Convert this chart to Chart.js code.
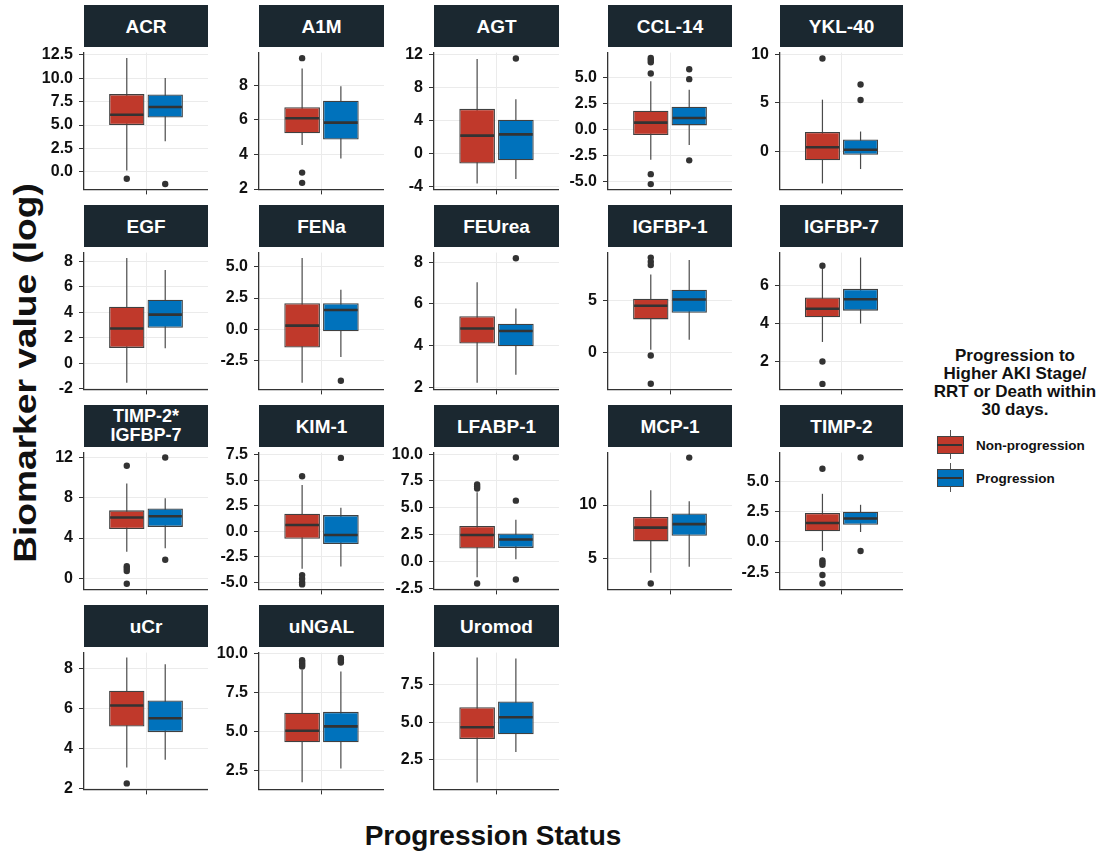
<!DOCTYPE html>
<html>
<head>
<meta charset="utf-8">
<script src="https://cdn.jsdelivr.net/npm/chart.js@4.4.0/dist/chart.umd.min.js"></script>
<style>
  body { margin: 0; background: #fff; font-family: 'Liberation Sans', Arial, sans-serif; }
  #stage { position: relative; width: 1104px; height: 856px; overflow: hidden; }
  #stage canvas { position: absolute; }
  .strip { position: absolute; background: #1b2830; color: #fff; font-weight: bold; font-size: 19px;
           display: flex; align-items: center; justify-content: center; text-align: center; line-height: 19px; }
  .strip.two { font-size: 18px; line-height: 19px; }
  .axis-title { position: absolute; font-weight: bold; font-size: 28px; color: #111; white-space: nowrap; }
  #ytitle { left: 25px; top: 373px; font-size: 32px; transform: translate(-50%, -50%) rotate(-90deg) scaleX(1.16); }
  #xtitle { left: 493px; top: 836px; transform: translate(-50%, -50%); }
  .legend-title { position: absolute; left: 925px; top: 347px; width: 180px; text-align: center;
                  font-weight: bold; font-size: 17px; line-height: 18px; color: #111; }
  .key { position: absolute; left: 937px; width: 27px; height: 29px; }
  .key .wh { position: absolute; left: 13px; top: 0; width: 1px; height: 29px; background: #555; }
  .key .bx { position: absolute; left: 0; top: 6px; width: 25px; height: 16px; border: 1px solid #444; }
  .key .md { position: absolute; left: 0; top: 8px; width: 25px; height: 1.5px; background: #333; }
  .key-label { position: absolute; left: 976px; font-weight: bold; font-size: 13.5px; color: #111; transform: translateY(-50%); }
</style>
</head>
<body>
<div id="stage">
  <div class="axis-title" id="ytitle">Biomarker value (log)</div>
  <div class="axis-title" id="xtitle">Progression Status</div>
  <div class="legend-title">Progression to<br>Higher AKI Stage/<br>RRT or Death within<br>30 days.</div>
</div>
<script>
// facets, in reading order
const biomarkers = ['ACR', 'A1M', 'AGT', 'CCL-14', 'YKL-40',
                    'EGF', 'FENa', 'FEUrea', 'IGFBP-1', 'IGFBP-7',
                    'TIMP-2*\nIGFBP-7', 'KIM-1', 'LFABP-1', 'MCP-1', 'TIMP-2',
                    'uCr', 'uNGAL', 'Uromod'];
const groups = ['Non-progression', 'Progression'];

// y limits of each facet (free scales)
const yRange = [
  [-1.87, 12.73], [1.98, 9.89], [-4.32, 12.27], [-5.78, 7.41], [-3.88, 10.16],
  [-2.07, 8.71], [-4.84, 6.15], [1.9, 8.46], [-3.57, 9.56], [0.53, 7.74],
  [-1.12, 12.52], [-5.68, 7.69], [-2.62, 10.14], [2.06, 14.94], [-3.93, 7.39],
  [1.96, 8.82], [1.29, 10.04], [0.52, 9.64]
];

const yTickLabels = [
  ['0.0', '2.5', '5.0', '7.5', '10.0', '12.5'], ['2', '4', '6', '8'], ['-4', '0', '4', '8', '12'],
  ['-5.0', '-2.5', '0.0', '2.5', '5.0'], ['0', '5', '10'],
  ['-2', '0', '2', '4', '6', '8'], ['-2.5', '0.0', '2.5', '5.0'], ['2', '4', '6', '8'], ['0', '5'], ['2', '4', '6'],
  ['0', '4', '8', '12'], ['-5.0', '-2.5', '0.0', '2.5', '5.0', '7.5'], ['-2.5', '0.0', '2.5', '5.0', '7.5', '10.0'],
  ['5', '10'], ['-2.5', '0.0', '2.5', '5.0'],
  ['2', '4', '6', '8'], ['2.5', '5.0', '7.5', '10.0'], ['2.5', '5.0', '7.5']
];

// [lower whisker, Q1, median, Q3, upper whisker]
const nonProgStats = [
  [0.16, 5.0, 6.1, 8.3, 12.16], [4.55, 5.23, 6.09, 6.73, 8.97], [-3.6, -1.17, 2.2, 5.45, 11.48],
  [-2.92, -0.54, 0.66, 1.81, 4.64], [-3.27, -0.89, 0.45, 2.02, 5.33],
  [-1.55, 1.2, 2.73, 4.45, 8.29], [-4.31, -1.48, 0.28, 2.09, 5.72], [2.22, 4.1, 4.82, 5.41, 7.04],
  [0.23, 3.15, 4.46, 5.13, 7.46], [3.03, 4.33, 4.78, 5.37, 6.9],
  [2.64, 4.89, 6.05, 6.76, 9.44], [-3.66, -0.73, 0.61, 1.71, 4.52], [-1.49, 1.2, 2.45, 3.3, 6.44],
  [3.62, 6.58, 7.88, 8.88, 11.39], [-0.75, 0.88, 1.57, 2.4, 3.98],
  [3.06, 5.11, 6.17, 6.91, 8.58], [1.75, 4.31, 5.04, 6.19, 8.93], [0.98, 3.88, 4.66, 6.0, 9.31]
];
const progStats = [
  [3.26, 5.8, 6.93, 8.26, 10.03], [3.77, 4.86, 5.84, 7.11, 7.95], [-3.07, -0.8, 2.35, 4.13, 6.6],
  [-1.5, 0.39, 1.11, 2.2, 3.82], [-1.79, -0.32, 0.19, 1.25, 2.06],
  [1.18, 2.78, 3.82, 5.0, 7.33], [-2.23, -0.17, 1.54, 2.09, 3.16], [2.6, 3.97, 4.7, 5.05, 5.78],
  [1.2, 3.78, 5.06, 5.99, 8.84], [4.0, 4.68, 5.28, 5.83, 7.48],
  [2.99, 5.11, 6.17, 6.94, 7.97], [-3.45, -1.25, -0.37, 1.58, 2.29], [0.2, 1.25, 2.04, 2.6, 3.87],
  [4.2, 7.11, 8.21, 9.21, 10.35], [0.82, 1.42, 1.94, 2.5, 3.07],
  [3.45, 4.83, 5.53, 6.42, 8.24], [2.62, 4.31, 5.32, 6.25, 8.83], [3.02, 4.2, 5.33, 6.38, 9.25]
];

const nonProgOutliers = [
  [-0.74], [9.57, 2.95, 2.36], [], [6.89, 6.69, 6.48, 5.39, -4.31, -5.27], [9.56],
  [], [], [], [9.08, 8.69, 8.36, -0.31, -3.03], [7.05, 2.0, 0.82],
  [11.21, 1.19, 0.96, 0.72, -0.56], [5.38, -4.28, -4.64, -4.97, -5.19], [7.17, 6.97, 6.79, -2.07],
  [2.61], [6.05, -1.53, -1.71, -1.89, -2.74, -3.44],
  [2.26], [9.55, 9.45, 9.35, 9.25, 9.15], []
];
const progOutliers = [
  [-1.3], [], [11.55], [5.81, 4.85, -2.98], [6.89, 5.29],
  [], [-4.14], [8.19], [], [],
  [12.03, 1.84], [7.17], [9.68, 5.66, -1.69], [14.47], [6.98, -0.75],
  [], [9.7, 9.6, 9.5, 9.4], []
];

const groupColors = ['#c0392b', '#0072bc'];

// page layout
const panelLeft = [84, 259, 434, 608, 780];
const panelWidth = [124, 125, 125, 124, 123];
const stripTop = [5, 205, 405, 605];
const STRIP_H = 42, PLOT_H = 146, AXIS_W = 60, PAD_TOP = 10, PAD_BOTTOM = 6, XAXIS_H = 6;
const AXIS = '#333333', GRID = '#ebebeb', EDGE = '#404040';

const boxPlot = {
    id: 'boxPlot',
    beforeDatasetsDraw(chart) {
        const { ctx } = chart;
        const y = chart.scales.y;
        chart.data.datasets.forEach((ds, k) => {
            const bar = chart.getDatasetMeta(k).data[0];
            ctx.save();
            ctx.strokeStyle = '#4a4a4a';
            ctx.lineWidth = 1.2;
            ctx.beginPath();
            ctx.moveTo(bar.x, y.getPixelForValue(ds.stats[0]));
            ctx.lineTo(bar.x, y.getPixelForValue(ds.stats[4]));
            ctx.stroke();
            ctx.restore();
        });
    },
    afterDatasetsDraw(chart) {
        const { ctx } = chart;
        const y = chart.scales.y;
        chart.data.datasets.forEach((ds, k) => {
            const bar = chart.getDatasetMeta(k).data[0];
            const half = bar.width / 2;
            ctx.save();
            ctx.strokeStyle = '#333';
            ctx.lineWidth = 2.6;
            ctx.beginPath();
            const ym = y.getPixelForValue(ds.stats[2]);
            ctx.moveTo(bar.x - half + 1, ym);
            ctx.lineTo(bar.x + half - 1, ym);
            ctx.stroke();
            ctx.fillStyle = '#333';
            ds.outliers.forEach(v => {
                ctx.beginPath();
                ctx.arc(bar.x, y.getPixelForValue(v), 3.2, 0, Math.PI * 2);
                ctx.fill();
            });
            ctx.restore();
        });
    }
};

function makeConfig(i) {
    const ticks = yTickLabels[i];
    const stats = [nonProgStats[i], progStats[i]];
    const outliers = [nonProgOutliers[i], progOutliers[i]];
    return {
        type: 'bar',
        data: {
            labels: [''],
            datasets: groups.map((g, k) => ({
                label: g,
                data: [[stats[k][1], stats[k][3]]],
                stats: stats[k],
                outliers: outliers[k],
                backgroundColor: groupColors[k],
                borderColor: EDGE,
                borderWidth: 1.3,
                borderSkipped: false,
                categoryPercentage: 0.62,
                barPercentage: 0.92
            }))
        },
        options: {
            responsive: false,
            animation: false,
            events: [],
            layout: { padding: { top: PAD_TOP, bottom: PAD_BOTTOM, left: 0, right: 0 } },
            plugins: { legend: { display: false }, tooltip: { enabled: false } },
            scales: {
                x: {
                    grid: { offset: false, color: GRID, tickColor: AXIS, tickLength: 5 },
                    border: { color: AXIS, width: 1.3 },
                    ticks: { display: false },
                    afterFit: s => { s.height = XAXIS_H; }
                },
                y: {
                    min: yRange[i][0],
                    max: yRange[i][1],
                    afterBuildTicks: s => { s.ticks = ticks.map(t => ({ value: parseFloat(t) })); },
                    ticks: {
                        autoSkip: false,
                        padding: 6,
                        color: '#111',
                        font: { family: "'Liberation Sans', Arial, sans-serif", size: 16, weight: 'bold' },
                        callback: (v, k) => ticks[k]
                    },
                    grid: { color: GRID, tickColor: AXIS, tickLength: 5 },
                    border: { color: AXIS, width: 1.3 },
                    afterFit: s => { s.width = AXIS_W; }
                }
            }
        },
        plugins: [boxPlot]
    };
}

const stage = document.getElementById('stage');

biomarkers.forEach((name, i) => {
    const col = i % 5, row = Math.floor(i / 5);
    const left = panelLeft[col], top = stripTop[row], w = panelWidth[col];

    const canvas = document.createElement('canvas');
    canvas.width = AXIS_W + w;
    canvas.height = PAD_TOP + PLOT_H + XAXIS_H + PAD_BOTTOM;
    canvas.style.width = canvas.width + 'px';
    canvas.style.height = canvas.height + 'px';
    canvas.style.left = (left - AXIS_W) + 'px';
    canvas.style.top = (top + STRIP_H - PAD_TOP) + 'px';
    stage.appendChild(canvas);
    new Chart(canvas, makeConfig(i));

    const strip = document.createElement('div');
    strip.className = 'strip' + (name.includes('\n') ? ' two' : '');
    strip.style.left = left + 'px';
    strip.style.top = top + 'px';
    strip.style.width = w + 'px';
    strip.style.height = STRIP_H + 'px';
    strip.innerHTML = name.split('\n').join('<br>');
    stage.appendChild(strip);
});

// legend keys
const keyTops = [430, 463];
groups.forEach((g, k) => {
    const key = document.createElement('div');
    key.className = 'key';
    key.style.top = keyTops[k] + 'px';
    key.innerHTML = '<div class="wh"></div><div class="bx" style="background:' + groupColors[k] +
        '"></div><div class="md" style="top:14px"></div>';
    stage.appendChild(key);
    const label = document.createElement('div');
    label.className = 'key-label';
    label.style.top = (keyTops[k] + 15) + 'px';
    label.textContent = g;
    stage.appendChild(label);
});
</script>
</body>
</html>
